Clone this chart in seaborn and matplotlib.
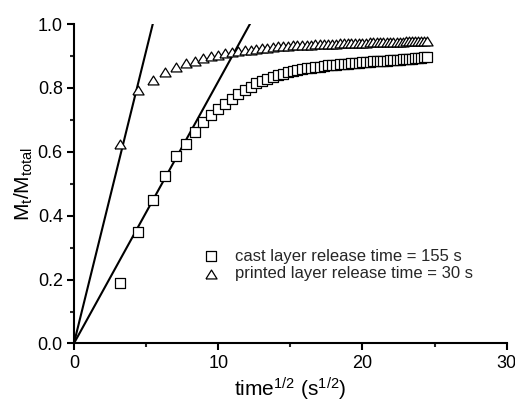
import numpy as np
import pandas as pd
import matplotlib
matplotlib.use("Agg")
import matplotlib.pyplot as plt
import seaborn as sns
from matplotlib.ticker import MultipleLocator

# square root of release time, t = 10, 20, ..., 600 s
time_s = np.arange(10, 610, 10)
sqrt_time = np.sqrt(time_s)

cast_release = [
    0.190, 0.350, 0.449, 0.524, 0.587, 0.626, 0.662, 0.694, 0.715, 0.735,
    0.751, 0.767, 0.780, 0.793, 0.803, 0.814, 0.822, 0.829, 0.835, 0.841,
    0.845, 0.849, 0.852, 0.855, 0.858, 0.861, 0.863, 0.865, 0.867, 0.869,
    0.871, 0.872, 0.873, 0.874, 0.875, 0.876, 0.877, 0.878, 0.879, 0.880,
    0.881, 0.882, 0.883, 0.884, 0.885, 0.886, 0.886, 0.887, 0.888, 0.889,
    0.889, 0.890, 0.891, 0.891, 0.892, 0.893, 0.894, 0.895, 0.896, 0.897,
]
printed_release = [
    0.626, 0.793, 0.824, 0.850, 0.866, 0.878, 0.886, 0.893, 0.899, 0.904,
    0.908, 0.912, 0.915, 0.918, 0.920, 0.922, 0.924, 0.926, 0.928, 0.930,
    0.931, 0.932, 0.933, 0.934, 0.935, 0.935, 0.936, 0.937, 0.937, 0.938,
    0.938, 0.939, 0.939, 0.940, 0.940, 0.941, 0.941, 0.941, 0.942, 0.942,
    0.942, 0.943, 0.943, 0.943, 0.944, 0.944, 0.944, 0.944, 0.945, 0.945,
    0.945, 0.945, 0.946, 0.946, 0.946, 0.946, 0.947, 0.947, 0.947, 0.947,
]

# initial-slope fits through the origin
cast_slope = 0.082
printed_slope = 0.183

cast_label = "cast layer release time = 155 s"
printed_label = "printed layer release time = 30 s"

df = pd.DataFrame({
    "x": sqrt_time,
    "cast": cast_release,
    "printed": printed_release,
})

fit_x = np.array([0.0, 13.0])
fit_cast = pd.DataFrame({"x": fit_x, "y": cast_slope * fit_x})
fit_printed = pd.DataFrame({"x": fit_x, "y": printed_slope * fit_x})

sns.set_theme(style="ticks")
plt.rcParams["font.family"] = ["Liberation Sans", "DejaVu Sans"]
plt.rcParams["mathtext.fontset"] = "custom"
plt.rcParams["mathtext.rm"] = "Liberation Sans"
plt.rcParams["mathtext.it"] = "Liberation Sans:italic"

fig = plt.figure(figsize=(5.15, 4.05), dpi=100)
ax = fig.add_axes([0.1435, 0.152, 0.8405, 0.7885])

tri = [(-1, -0.8), (1, -0.8), (0, 0.8), (-1, -0.8)]

sns.lineplot(data=fit_printed, x="x", y="y", color="black", linewidth=1.5, ax=ax)
sns.lineplot(data=fit_cast, x="x", y="y", color="black", linewidth=1.5, ax=ax)
sns.scatterplot(data=df, x="x", y="cast", marker="s", s=42, color="white",
                edgecolor="black", linewidth=0.9, label=cast_label, ax=ax, zorder=3)
sns.scatterplot(data=df, x="x", y="printed", marker=tri, s=64, color="white",
                edgecolor="black", linewidth=0.9, label=printed_label, ax=ax, zorder=3)

ax.set_xlim(0, 30)
ax.set_ylim(0, 1.0)
ax.xaxis.set_major_locator(MultipleLocator(10))
ax.xaxis.set_minor_locator(MultipleLocator(5))
ax.yaxis.set_major_locator(MultipleLocator(0.2))
ax.yaxis.set_minor_locator(MultipleLocator(0.1))
ax.yaxis.set_major_formatter(plt.FormatStrFormatter("%.1f"))

ax.tick_params(which="major", direction="out", length=5, width=1.5, labelsize=13,
               colors="black", pad=3)
ax.tick_params(which="minor", direction="out", length=3, width=1.5)
for side in ["left", "bottom"]:
    ax.spines[side].set_linewidth(1.5)
    ax.spines[side].set_color("black")
sns.despine(ax=ax)

ax.set_xlabel(r"time$^{\mathregular{1/2}}$ (s$^{\mathregular{1/2}}$)", fontsize=15,
              color="black", labelpad=3)
ax.set_ylabel(r"$\mathregular{M_t/M_{total}}$", fontsize=15, color="black", labelpad=2)

ax.legend(loc="upper left", bbox_to_anchor=(0.262, 0.318), frameon=False, fontsize=12,
          handletextpad=0.45, labelspacing=0.15, borderaxespad=0)

fig.savefig("out.png", dpi=100)
